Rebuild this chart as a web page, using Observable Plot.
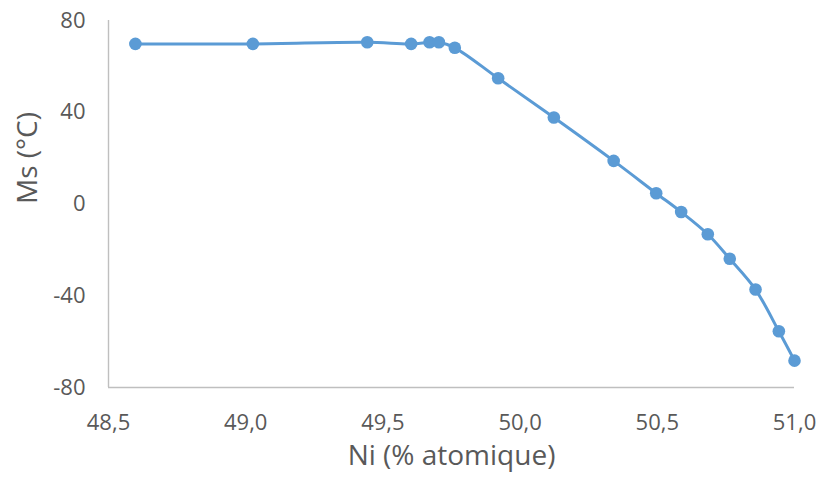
<!DOCTYPE html>
<html>
<head>
<meta charset="utf-8">
<script src="https://cdn.jsdelivr.net/npm/d3@7"></script>
<script src="https://cdn.jsdelivr.net/npm/@observablehq/plot@0.6"></script>
<style>
  html, body { margin: 0; padding: 0; background: #fff; }
</style>
</head>
<body>
<div id="chart"></div>
<script>
const ni = [48.598, 49.026, 49.443, 49.603, 49.670, 49.704, 49.762, 49.920, 50.123, 50.341, 50.496, 50.587, 50.684, 50.764, 50.858, 50.943, 51.0];
const ms = [69.8, 69.8, 70.5, 69.8, 70.5, 70.5, 68.1, 54.8, 37.7, 18.8, 4.7, -3.5, -13.2, -23.9, -37.3, -55.5, -68.3];
const xTicks = [48.5, 49.0, 49.5, 50.0, 50.5, 51.0];
const yTicks = [-80, -40, 0, 40, 80];
const xTitle = "Ni (% atomique)";
const yTitle = "Ms (°C)";

const data = ni.map((x, i) => ({x, y: ms[i]}));
const blue = "#5B9BD5";
const grey = "#595959";

const chart = Plot.plot({
  width: 816,
  height: 482,
  marginLeft: 108,
  marginRight: 22,
  marginTop: 20,
  marginBottom: 95,
  style: {fontFamily: "'Open Sans', sans-serif", fontSize: "22px", color: grey, background: "#fff"},
  x: {domain: [48.5, 51], ticks: xTicks},
  y: {domain: [-80, 80], ticks: yTicks},
  marks: [
    Plot.ruleY([-80], {stroke: "#BFBFBF", strokeWidth: 1.4}),
    Plot.ruleX([48.5], {stroke: "#BFBFBF", strokeWidth: 1.4}),
    Plot.axisX(xTicks, {tickSize: 0, tickPadding: 27, label: null, fill: grey,
      tickFormat: d => d.toFixed(1).replace(".", ",")}),
    Plot.axisY(yTicks, {tickSize: 0, tickPadding: 23, label: null, fill: grey,
      tickFormat: d => String(d)}),
    Plot.line(data, {x: "x", y: "y", stroke: blue, strokeWidth: 3, curve: "catmull-rom"}),
    Plot.dot(data, {x: "x", y: "y", fill: blue, r: 6.3}),
    Plot.text([xTitle], {frameAnchor: "bottom", dy: 77, text: d => d, fontSize: 28, fill: grey}),
    Plot.text([yTitle], {frameAnchor: "left", dx: -80, text: d => d, rotate: -90, fontSize: 28, fill: grey})
  ]
});
document.getElementById("chart").append(chart);
</script>
</body>
</html>
